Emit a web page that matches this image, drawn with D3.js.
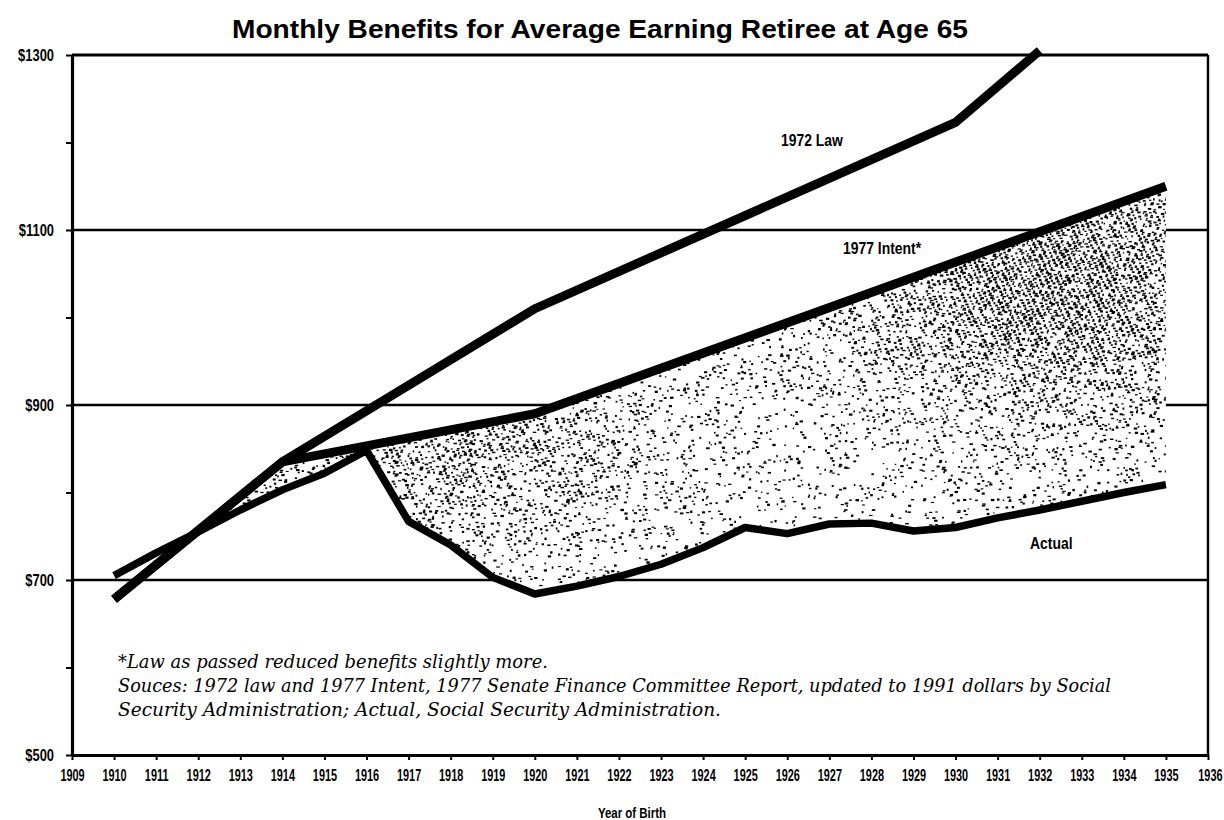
<!DOCTYPE html>
<html>
<head>
<meta charset="utf-8">
<script src="https://cdn.jsdelivr.net/npm/d3@7"></script>
<style>
  body { margin: 0; background: #fff; }
  svg { display: block; }
</style>
</head>
<body>
<svg width="1224" height="820"></svg>
<script>
// values, monthly benefit in 1991 dollars
const lawYears = [1910, 1914, 1920, 1930, 1932];
const lawValues = [678, 835, 1010, 1223, 1305];

const intentYears = [1910, 1914, 1920, 1935];
const intentValues = [678, 835, 890, 1150];

const actualYears = [1910, 1911, 1912, 1913, 1914, 1915, 1916, 1917, 1918, 1919, 1920, 1921, 1922,
  1923, 1924, 1925, 1926, 1927, 1928, 1929, 1930, 1931, 1932, 1933, 1934, 1935];
const actualValues = [705, 731, 755, 780, 803, 822, 848, 767, 740, 703, 684, 693, 704,
  718, 737, 760, 753, 764, 765, 756, 760, 771, 780, 790, 800, 809];

const yearTicks = d3.range(1909, 1937);
const minorTicks = [500, 600, 700, 800, 900, 1000, 1100, 1200, 1300];
const dollarTicks = [500, 700, 900, 1100, 1300];
const gridValues = [700, 900, 1100, 1300];

const footnotes = [
  "*Law as passed reduced benefits slightly more.",
  "Souces: 1972 law and 1977 Intent, 1977 Senate Finance Committee Report, updated to 1991 dollars by Social",
  "Security Administration; Actual, Social Security Administration."
];

let svg = d3.select("svg");
let sans = "'Liberation Sans', Arial, Helvetica, sans-serif";

let x = d3.scaleLinear().domain([1909, 1936]).range([72, 1208]);
let y = d3.scaleLinear().domain([500, 1300]).range([755, 55]);

// squeeze text horizontally so it looks like a condensed face
function condense(sel, k) {
  sel.each(function () {
    let t = d3.select(this);
    let x0 = +t.attr("x") || 0;
    t.attr("x", x0 / k).attr("transform", "scale(" + k + ",1)");
  });
}

svg.append("rect").attr("width", 1224).attr("height", 820).attr("fill", "#fff");

// horizontal rules
svg.append("g").selectAll("line")
  .data(gridValues)
  .enter().append("line")
  .attr("x1", x(1909)).attr("x2", x(1936))
  .attr("y1", d => y(d)).attr("y2", d => y(d))
  .attr("stroke", "#000")
  .attr("stroke-width", d => d === 1300 ? 3 : 2.4);

// right frame
svg.append("line")
  .attr("x1", x(1936)).attr("x2", x(1936))
  .attr("y1", y(1300)).attr("y2", y(500))
  .attr("stroke", "#000").attr("stroke-width", 2.4);

let pts = (xs, vs) => d3.zip(xs, vs);
let law = pts(lawYears, lawValues);
let intent = pts(intentYears, intentValues);
let actual = pts(actualYears, actualValues);

// stippled gap between the 1977 intent and actual benefits
let defs = svg.append("defs");
defs.append("clipPath").attr("id", "underIntent")
  .append("path")
  .attr("d", d3.area().x(d => x(d[0])).y0(y(500)).y1(d => y(d[1]))(intent));
defs.append("clipPath").attr("id", "aboveActual")
  .append("path")
  .attr("d", d3.area().x(d => x(d[0])).y0(y(1300)).y1(d => y(d[1]))(actual));

let shade = svg.append("g").attr("clip-path", "url(#underIntent)")
  .append("g").attr("clip-path", "url(#aboveActual)");

let bx0 = x(1912), bx1 = x(1935) + 3, by0 = y(1170), by1 = y(670);
shade.append("rect")
  .attr("x", bx0).attr("y", by0)
  .attr("width", bx1 - bx0).attr("height", by1 - by0)
  .attr("fill", "#fff");

// deterministic stipple texture, denser toward the upper right
function hash(i) {
  let s = Math.sin(i * 12.9898 + 78.233) * 43758.5453;
  return s - Math.floor(s);
}
let ax = x(1932.3), ay = y(1050), cx = x(1918), cy = y(850);
function density(px, py) {
  let a = Math.exp(-(((px - ax) ** 2) / (2 * 130 * 130) + ((py - ay) ** 2) / (2 * 80 * 80)));
  let b = Math.exp(-(((px - cx) ** 2) / (2 * 110 * 110) + ((py - cy) ** 2) / (2 * 55 * 55)));
  return 0.16 + 0.7 * a + 0.4 * b;
}
let dots = [];
for (let i = 0; i < 42000; i++) {
  let px = bx0 + ((0.5 + 0.7548776662466927 * i) % 1) * (bx1 - bx0);
  let py = by0 + ((0.5 + 0.5698402909980532 * i) % 1) * (by1 - by0);
  if (hash(i) < density(px, py)) {
    dots.push([px, py, 1.4 + 2.2 * hash(i + 7), 1.1 + 1.3 * hash(i + 13)]);
  }
}
shade.append("g").selectAll("rect")
  .data(dots)
  .enter().append("rect")
  .attr("x", d => d[0]).attr("y", d => d[1])
  .attr("width", d => d[2]).attr("height", d => d[3])
  .attr("fill", "#000");

// the three benefit lines
let line = d3.line().x(d => x(d[0])).y(d => y(d[1]));
[law, intent, actual].forEach(function (s, k) {
  svg.append("path")
    .attr("d", line(s))
    .attr("fill", "none")
    .attr("stroke", "#000")
    .attr("stroke-width", k === 2 ? 7.5 : 9)
    .attr("stroke-linejoin", "round");
});

// axes
let yAxis = d3.axisLeft(y)
  .tickValues(minorTicks)
  .tickSize(6)
  .tickSizeOuter(0)
  .tickPadding(12)
  .tickFormat(d => dollarTicks.includes(d) ? "$" + d : "");
let gy = svg.append("g")
  .attr("transform", "translate(" + x(1909) + ",0)")
  .call(yAxis);
gy.select(".domain").attr("stroke-width", 3.2);
gy.selectAll(".tick line").attr("stroke-width", 2);
gy.selectAll("text")
  .attr("font-family", sans).attr("font-size", 17).attr("font-weight", "bold")
  .attr("fill", "#000")
  .call(condense, 0.76);

let xAxis = d3.axisBottom(x)
  .tickValues(yearTicks)
  .tickSize(5)
  .tickSizeOuter(0)
  .tickPadding(9)
  .tickFormat(d => String(d));
let gx = svg.append("g")
  .attr("transform", "translate(0," + y(500) + ")")
  .call(xAxis);
gx.select(".domain").attr("stroke-width", 3.2);
gx.selectAll(".tick line").attr("stroke-width", 2);
gx.selectAll("text")
  .attr("font-family", sans).attr("font-size", 17).attr("font-weight", "bold")
  .attr("fill", "#000")
  .call(condense, 0.64);
// the last year sits on the page edge; keep it inside
gx.selectAll(".tick").filter(d => d === 1936).select("text")
  .attr("text-anchor", "end")
  .attr("x", (1222 - x(1936)) / 0.64);

// title and labels
svg.append("text")
  .attr("x", 600).attr("y", 38)
  .attr("text-anchor", "middle")
  .attr("font-family", sans).attr("font-size", 25).attr("font-weight", "bold")
  .text("Monthly Benefits for Average Earning Retiree at Age 65")
  .attr("textLength", 736).attr("lengthAdjust", "spacingAndGlyphs");

let seriesLabels = [
  {text: "1972 Law", x: 781, y: 146},
  {text: "1977 Intent*", x: 843, y: 254},
  {text: "Actual", x: 1030, y: 549}
];
svg.append("g").selectAll("text")
  .data(seriesLabels)
  .enter().append("text")
  .attr("x", d => d.x).attr("y", d => d.y)
  .attr("font-family", sans).attr("font-size", 17).attr("font-weight", "bold")
  .text(d => d.text)
  .call(condense, 0.82);

let noteWidths = [430, 993, 603];
svg.append("g").selectAll("text")
  .data(footnotes)
  .enter().append("text")
  .attr("x", 118).attr("y", (d, i) => 668 + i * 24)
  .attr("font-family", "'DejaVu Serif', 'Liberation Serif', serif")
  .attr("font-style", "italic")
  .attr("font-size", 18)
  .text(d => d)
  .attr("textLength", (d, i) => noteWidths[i])
  .attr("lengthAdjust", "spacingAndGlyphs");

svg.append("text")
  .attr("x", 632).attr("y", 818)
  .attr("text-anchor", "middle")
  .attr("font-family", sans).attr("font-size", 14).attr("font-weight", "bold")
  .text("Year of Birth")
  .call(condense, 0.82);
</script>
</body>
</html>
